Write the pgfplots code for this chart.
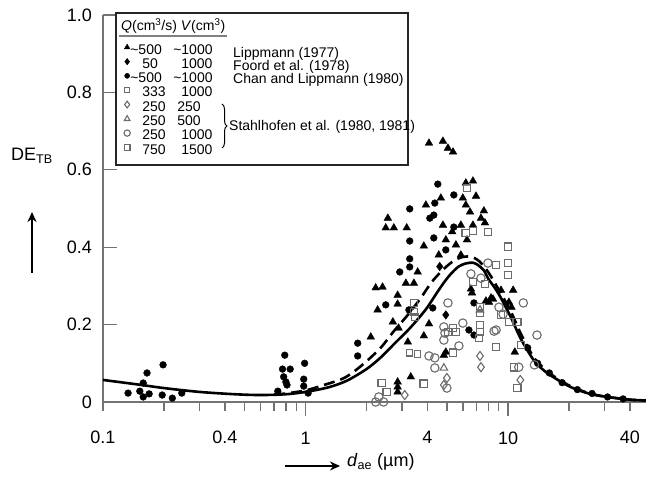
\documentclass[border=0pt]{standalone}
\usepackage{fontspec}
\setmainfont{Liberation Sans}
\usepackage{pgfplots}
\pgfplotsset{compat=1.18}
\usetikzlibrary{decorations.pathreplacing,arrows.meta}
\definecolor{axgray}{gray}{0.45}
\definecolor{mkgray}{gray}{0.42}
\newcommand{\LE}[4]{\makebox[0pt][l]{\hspace*{#1pt}#2}\makebox[0pt][l]{\hspace*{#3pt}#4}\hspace*{82pt}}
\begin{document}
\begin{tikzpicture}[x=1pt,y=1pt]
\path[use as bounding box] (-103,-77) rectangle (543,402);
\begin{axis}[
  at={(0,0)}, anchor=south west,
  scale only axis, width=543pt, height=387pt,
  xmode=log, xmin=0.1, xmax=48, ymin=0, ymax=1,
  axis lines=left, axis line style={-, draw=axgray, line width=1.2pt},
  clip=false,
  xtick={1,10}, xticklabels={1,10},
  minor xtick={0.2,0.3,0.5,0.6,0.7,0.8,0.9,2,3,5,6,7,8,9,20,30},
  extra x ticks={0.1,0.4,4,40}, extra x tick labels={0.1,0.4,4,40},
  extra x tick style={tick align=outside, major tick length=9pt, xticklabel style={yshift=-4pt}},
  xtick align=outside, ytick align=inside,
  major tick length=14pt, minor tick length=9pt,
  ytick={0,0.2,0.4,0.6,0.8,1}, yticklabels={0,0.2,0.4,0.6,0.8,1.0},
  every tick/.style={draw=axgray, line width=1.3pt},
  every minor tick/.style={draw=axgray, line width=1.3pt},
  xticklabel style={font=\fontsize{18}{18}\selectfont, inner sep=0pt, anchor=north, yshift=-16pt},
  yticklabel style={font=\fontsize{18}{18}\selectfont, inner sep=0pt, anchor=east, xshift=-11pt},
  legend image code/.code={\draw[mark repeat=2,mark phase=2,#1] plot coordinates {(0pt,4pt) (5pt,4pt) (10pt,4pt)};},
  legend image post style={mark options={scale=0.75}},
  legend style={draw=none, fill=none, at={(axis description cs:0.0387,0.925)}, anchor=north west,
    inner sep=0pt, outer sep=0pt, row sep=0pt, column sep=0pt,
    nodes={inner sep=0pt, text height=10pt, text depth=4.2pt, font=\fontsize{14}{14}\selectfont}},
  legend cell align=left,
]
% Lippmann (1977)
\addplot[only marks, mark=triangle*, mark size=4.4pt, black] coordinates {
(4.07,0.669)(4.77,0.674)(5.05,0.656)(5.35,0.646)
(6.19,0.566)(6.71,0.571)(6.95,0.532)(5.98,0.527)(4.66,0.527)(3.93,0.509)(6.19,0.509)(6.49,0.491)(7.60,0.494)
(2.55,0.475)(2.49,0.450)(2.73,0.450)(3.16,0.450)(4.77,0.457)(5.85,0.457)(6.71,0.457)(7.35,0.475)(7.69,0.463)
(3.84,0.403)(3.58,0.336)(3.13,0.307)(3.43,0.307)(2.22,0.295)(2.40,0.297)(2.85,0.276)(2.27,0.238)(2.85,0.253)
(2.10,0.168)(4.07,0.202)(3.20,0.155)(3.84,0.171)(3.31,0.065)(2.85,0.052)(2.85,0.039)(2.85,0.026)(2.70,0.207)
(2.88,0.191)(4.82,0.121)(4.93,0.129)(6.56,0.292)(6.64,0.282)(8.05,0.258)(8.43,0.266)(7.78,0.261)(8.24,0.269)
(10.6,0.289)(10.1,0.258)(10.4,0.245)(10.8,0.129)(9.23,0.289)(4.55,0.38)(4.93,0.419)(5.3,0.44)(5.53,0.406)
(5.85,0.38)(6.27,0.419)};
\addlegendentry{\LE{0}{\textasciitilde 500}{43}{\textasciitilde 1000}}
% Foord et al. (1978)
\addplot[only marks, mark=diamond*, mark size=4.3pt, black] coordinates {(4.93,0.225)(4.6,0.35)};
\addlegendentry{\LE{12}{50}{51}{1000}}
% Chan and Lippmann (1980)
\addplot[only marks, mark=*, mark size=3.4pt, black] coordinates {
(0.133,0.023)(0.152,0.028)(0.165,0.075)(0.158,0.013)(0.169,0.021)(0.196,0.018)(0.198,0.096)(0.22,0.010)(0.245,0.023)(0.158,0.049)
(0.79,0.121)(0.77,0.085)(0.84,0.085)(0.78,0.065)(0.80,0.052)(0.81,0.044)(0.73,0.028)(0.99,0.10)(0.98,0.059)(0.98,0.041)(1.03,0.023)
(1.81,0.152)(1.81,0.119)
(4.50,0.563)(5.40,0.535)(4.35,0.514)(3.27,0.499)(4.30,0.483)(4.11,0.475)(5.40,0.452)(3.27,0.416)(4.30,0.424)
(3.27,0.370)(3.27,0.349)(2.92,0.336)(2.49,0.251)(3.24,0.238)(4.25,0.243)(6.79,0.256)(6.41,0.186)(6.79,0.173)(4.93,0.393)
(12.5,0.14)(14,0.10)(16,0.075)(18.5,0.05)(22,0.032)(26,0.022)(31,0.013)(37,0.008)};
\addlegendentry{\LE{0}{\textasciitilde 500}{43}{\textasciitilde 1000}}
% Chan and Lippmann 333/1000
\addplot[only marks, mark=square, mark size=3.2pt, mkgray, line width=1.1pt] coordinates {
(3.43,0.256)(3.43,0.233)(3.47,0.220)(3.27,0.127)(3.58,0.124)};
\addlegendentry{\LE{12}{333}{51}{1000}}
% Stahlhofen 250/250
\addplot[only marks, mark=diamond, mark size=4.5pt, mkgray, line width=1.1pt] coordinates {
(3.09,0.018)(4.99,0.062)(4.82,0.044)(7.27,0.119)(7.35,0.090)(11.5,0.057)};
\addlegendentry{\LE{12}{250}{47}{250}}
% Stahlhofen 250/500
\addplot[only marks, mark=triangle, mark size=4.3pt, mkgray, line width=1.1pt] coordinates {
(4.82,0.088)(7.27,0.238)};
\addlegendentry{\LE{12}{250}{47}{500}}
% Stahlhofen 250/1000
\addplot[only marks, mark=o, mark size=4.2pt, mkgray, line width=1.1pt] coordinates {
(5.05,0.256)(4.82,0.194)(4.88,0.178)(4.82,0.160)(5.98,0.204)(5.72,0.145)(4.07,0.119)(4.35,0.114)(4.35,0.088)
(4.99,0.036)(8.53,0.183)(9.02,0.245)(9.45,0.227)(6.56,0.331)(7.35,0.320)(7.96,0.359)(11.9,0.256)(11.3,0.090)
(13.9,0.173)(13.5,0.096)(2.22,0.0)(2.30,0.013)(2.43,0.0)(8.73,0.186)};
\addlegendentry{\LE{12}{250}{51}{1000}}
% Stahlhofen 750/1500
\addplot[only marks, mark=square, mark size=3.8pt, mkgray, line width=1.1pt] coordinates {
(6.27,0.553)(6.71,0.442)(7.96,0.439)(6.19,0.437)(6.71,0.310)(7.69,0.305)(10.0,0.401)(10.0,0.359)(10.0,0.328)
(8.73,0.354)(3.84,0.047)(2.38,0.049)(2.52,0.026)(5.35,0.127)(5.35,0.191)(5.05,0.181)(5.53,0.181)(7.27,0.199)
(7.27,0.181)(7.18,0.165)(8.73,0.142)(7.27,0.245)(7.27,0.230)(11.1,0.207)(10.1,0.207)(11.6,0.147)(10.7,0.090)
(11.1,0.036)(9.23,0.225)};
\addlegendentry{\LE{12}{750}{51}{1500}}
% model curves
\addplot[forget plot, black, line width=2.6pt, smooth] coordinates {
(0.1,0.057)(0.15,0.045)(0.2,0.036)(0.3,0.026)(0.45,0.020)(0.6,0.018)(0.8,0.020)(1.0,0.026)(1.3,0.038)
(1.6,0.055)(2.0,0.085)(2.35,0.115)(2.8,0.155)(3.2,0.185)(3.6,0.215)(4.0,0.245)(4.4,0.278)(4.8,0.307)(5.2,0.33)
(5.7,0.35)(6.2,0.358)(6.7,0.36)(7.1,0.354)(7.6,0.34)(8.0,0.318)(8.6,0.295)(9.2,0.27)(10.3,0.22)(11.6,0.162)
(13.4,0.108)(15,0.082)(17,0.062)(20.5,0.038)(25,0.022)(30,0.014)(40,0.006)(48,0.004)};
\addplot[forget plot, black, line width=2.6pt, dash pattern=on 11pt off 6pt, smooth] coordinates {
(0.7,0.02)(0.8,0.022)(1.0,0.03)(1.2,0.042)(1.55,0.062)(1.9,0.095)(2.35,0.14)(2.7,0.18)(3.2,0.225)(3.7,0.268)
(4.2,0.31)(4.8,0.343)(5.4,0.365)(6.0,0.375)(6.6,0.375)(7.2,0.364)(8.0,0.335)(9.0,0.29)(10.3,0.235)(11.6,0.175)
(13.4,0.115)(15,0.088)(17,0.065)(20.5,0.04)(25,0.023)(30,0.014)(40,0.006)(48,0.004)};
\end{axis}
% annotations in pixel coordinates of the reference
\begin{scope}[shift={(-103,402)}, yscale=-1]
\draw[black!85, line width=1.2pt] (116,13) rectangle (408,165);
\node[anchor=base west, inner sep=0pt, font=\fontsize{14}{14}\selectfont] at (121,31)
  {\textit{Q}(cm\textsuperscript{3}/s) \textit{V}(cm\textsuperscript{3})};
\draw[gray, line width=1.3pt] (119,36) -- (227,36);
\node[anchor=base west, inner sep=0pt, font=\fontsize{14}{14}\selectfont] at (233,58) {Lippmann (1977)};
\node[anchor=base west, inner sep=0pt, font=\fontsize{14}{14}\selectfont] at (233,71) {Foord et al. (1978)};
\node[anchor=base west, inner sep=0pt, font=\fontsize{14}{14}\selectfont] at (233,84) {Chan and Lippmann (1980)};
\node[anchor=west, inner sep=0pt, font=\fontsize{14}{14}\selectfont] at (229,127) {Stahlhofen et al. (1980, 1981)};
\node[anchor=base, inner sep=0pt, font=\fontsize{18}{18}\selectfont] at (32,161) {DE\textsubscript{TB}};
\draw[line width=2.2pt, -{Stealth[length=10pt,width=9pt]}] (32,273) -- (32,212);
\draw[line width=2.2pt, -{Stealth[length=10pt,width=9pt]}] (285,466) -- (340,466);
\node[anchor=base west, inner sep=0pt, font=\fontsize{18}{18}\selectfont] at (347,467) {\textit{d}\textsubscript{ae} (µm)};
\end{scope}
\draw[decorate, decoration={brace, amplitude=5pt}, line width=1pt] (119,298) -- (119,254);
\end{tikzpicture}
\end{document}
